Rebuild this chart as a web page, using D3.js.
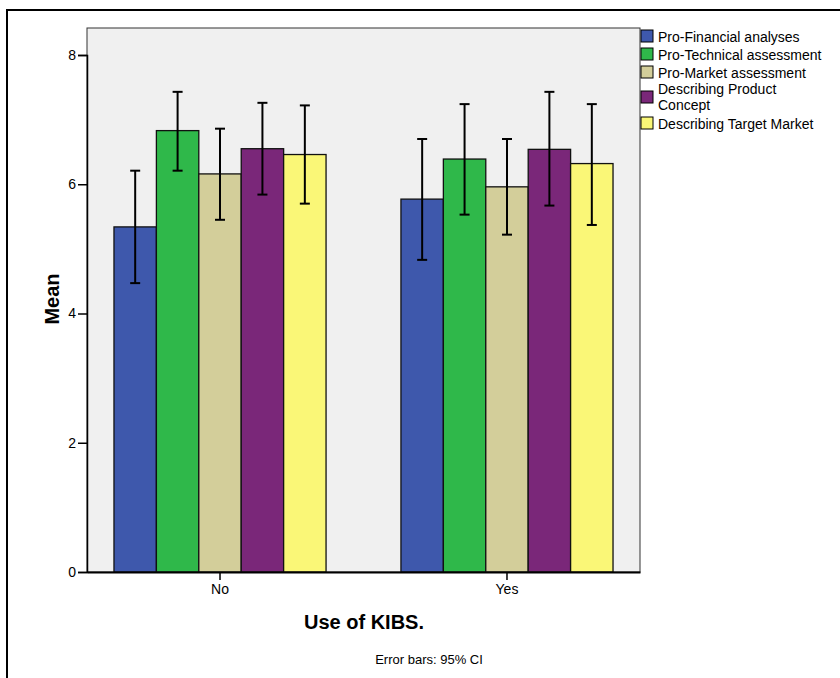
<!DOCTYPE html>
<html>
<head>
<meta charset="utf-8">
<script src="https://cdn.jsdelivr.net/npm/d3@7/dist/d3.min.js"></script>
<style>
  body { margin: 0; background: #fff; }
  text { font-family: "Liberation Sans", Arial, sans-serif; }
</style>
</head>
<body>
<script>
// groups on the x axis and the five series
var groups = ["No", "Yes"];
var series = ["Pro-Financial analyses", "Pro-Technical assessment", "Pro-Market assessment",
              "Describing Product Concept", "Describing Target Market"];
var colors = ["#3e58ac", "#2fb84a", "#d3ce9a", "#7a2779", "#faf777"];

// means and 95% CI per group (one value per series)
var meanNo  = [5.34, 6.83, 6.16, 6.55, 6.46];
var lowNo   = [4.47, 6.21, 5.45, 5.84, 5.70];
var highNo  = [6.21, 7.43, 6.86, 7.26, 7.22];
var meanYes = [5.77, 6.39, 5.96, 6.54, 6.32];
var lowYes  = [4.83, 5.53, 5.22, 5.67, 5.37];
var highYes = [6.70, 7.24, 6.70, 7.43, 7.24];
var yTicks = [0, 2, 4, 6, 8];

var w = 840, h = 678;
var plot = { left: 87, top: 28, right: 640, bottom: 572 };

var svg = d3.select("body").append("svg")
    .attr("width", w)
    .attr("height", h);

// outer frame (runs off right and bottom)
svg.append("rect")
    .attr("x", 7).attr("y", 10)
    .attr("width", 850).attr("height", 700)
    .attr("fill", "none")
    .attr("stroke", "#000")
    .attr("stroke-width", 2);

var y = d3.scaleLinear().domain([0, 8]).range([plot.bottom, 55]);
var x = d3.scaleBand().domain(groups)
    .range([plot.left, plot.right])
    .paddingInner(0.261).paddingOuter(0.094);
var xs = d3.scaleBand().domain(d3.range(series.length)).range([0, x.bandwidth()]);

// plot background
svg.append("rect")
    .attr("x", plot.left).attr("y", plot.top)
    .attr("width", plot.right - plot.left)
    .attr("height", plot.bottom - plot.top)
    .attr("fill", "#f0f0f0")
    .attr("stroke", "#333")
    .attr("stroke-width", 1);

var rows = [];
groups.forEach(function(g, gi) {
    var m = gi == 0 ? meanNo : meanYes;
    var lo = gi == 0 ? lowNo : lowYes;
    var hi = gi == 0 ? highNo : highYes;
    series.forEach(function(s, i) {
        rows.push({ g: g, i: i, mean: m[i], lo: lo[i], hi: hi[i] });
    });
});

svg.selectAll("rect.bar")
    .data(rows)
    .enter()
    .append("rect")
    .attr("class", "bar")
    .attr("x", function(d) { return x(d.g) + xs(d.i); })
    .attr("y", function(d) { return y(d.mean); })
    .attr("width", xs.bandwidth())
    .attr("height", function(d) { return y(0) - y(d.mean); })
    .attr("fill", function(d) { return colors[d.i]; })
    .attr("stroke", "#111")
    .attr("stroke-width", 1.3);

// error bars
var eb = svg.selectAll("g.err")
    .data(rows)
    .enter()
    .append("g")
    .attr("class", "err")
    .attr("transform", function(d) { return "translate(" + (x(d.g) + xs(d.i) + xs.bandwidth() / 2) + ",0)"; });
eb.append("line")
    .attr("y1", function(d) { return y(d.lo); })
    .attr("y2", function(d) { return y(d.hi); })
    .attr("stroke", "#000").attr("stroke-width", 2);
eb.append("line")
    .attr("x1", -5).attr("x2", 5)
    .attr("y1", function(d) { return y(d.hi); })
    .attr("y2", function(d) { return y(d.hi); })
    .attr("stroke", "#000").attr("stroke-width", 2);
eb.append("line")
    .attr("x1", -5).attr("x2", 5)
    .attr("y1", function(d) { return y(d.lo); })
    .attr("y2", function(d) { return y(d.lo); })
    .attr("stroke", "#000").attr("stroke-width", 2);

// axes
var yAxis = svg.append("g")
    .attr("transform", "translate(" + plot.left + ",0)")
    .call(d3.axisLeft(y).tickValues(yTicks).tickSize(9).tickPadding(2).tickFormat(d3.format("d")));
yAxis.attr("font-size", 14);
yAxis.select(".domain").attr("stroke", "#000").attr("stroke-width", 1.5);
yAxis.selectAll("line").attr("stroke", "#000").attr("stroke-width", 1.5);
yAxis.selectAll("text").attr("fill", "#000")
    .style("font-family", "Liberation Sans, Arial, sans-serif");

var xAxis = svg.append("g")
    .attr("transform", "translate(0," + plot.bottom + ")")
    .call(d3.axisBottom(x).tickSize(8).tickSizeOuter(0).tickPadding(4));
xAxis.attr("font-size", 14);
xAxis.select(".domain").attr("stroke", "#000").attr("stroke-width", 2);
xAxis.selectAll("line").attr("stroke", "#000").attr("stroke-width", 1.5);
xAxis.selectAll("text").attr("fill", "#000")
    .style("font-family", "Liberation Sans, Arial, sans-serif");

// axis titles
svg.append("text")
    .attr("transform", "translate(59,299) rotate(-90)")
    .attr("text-anchor", "middle")
    .attr("font-size", 20).attr("font-weight", "bold")
    .text("Mean");
svg.append("text")
    .attr("x", 364).attr("y", 629)
    .attr("text-anchor", "middle")
    .attr("font-size", 20).attr("font-weight", "bold")
    .text("Use of KIBS.");
svg.append("text")
    .attr("x", 429).attr("y", 664)
    .attr("text-anchor", "middle")
    .attr("font-size", 13)
    .text("Error bars: 95% CI");

// legend
var legTop = [30, 48, 66, 91, 117];
var legLines = [["Pro-Financial analyses"], ["Pro-Technical assessment"], ["Pro-Market assessment"],
                ["Describing Product", "Concept"], ["Describing Target Market"]];
var leg = svg.selectAll("g.leg")
    .data(series)
    .enter()
    .append("g")
    .attr("transform", function(d, i) { return "translate(641," + legTop[i] + ")"; });
leg.append("rect")
    .attr("width", 12).attr("height", 12)
    .attr("fill", function(d, i) { return colors[i]; })
    .attr("stroke", "#000").attr("stroke-width", 1);
leg.each(function(d, i) {
    var t = d3.select(this).append("text")
        .attr("x", 17)
        .attr("y", legLines[i].length > 1 ? 3 : 12)
        .attr("font-size", 14);
    legLines[i].forEach(function(l, k) {
        t.append("tspan").attr("x", 17).attr("dy", k == 0 ? 0 : 16).text(l);
    });
});
</script>
</body>
</html>
